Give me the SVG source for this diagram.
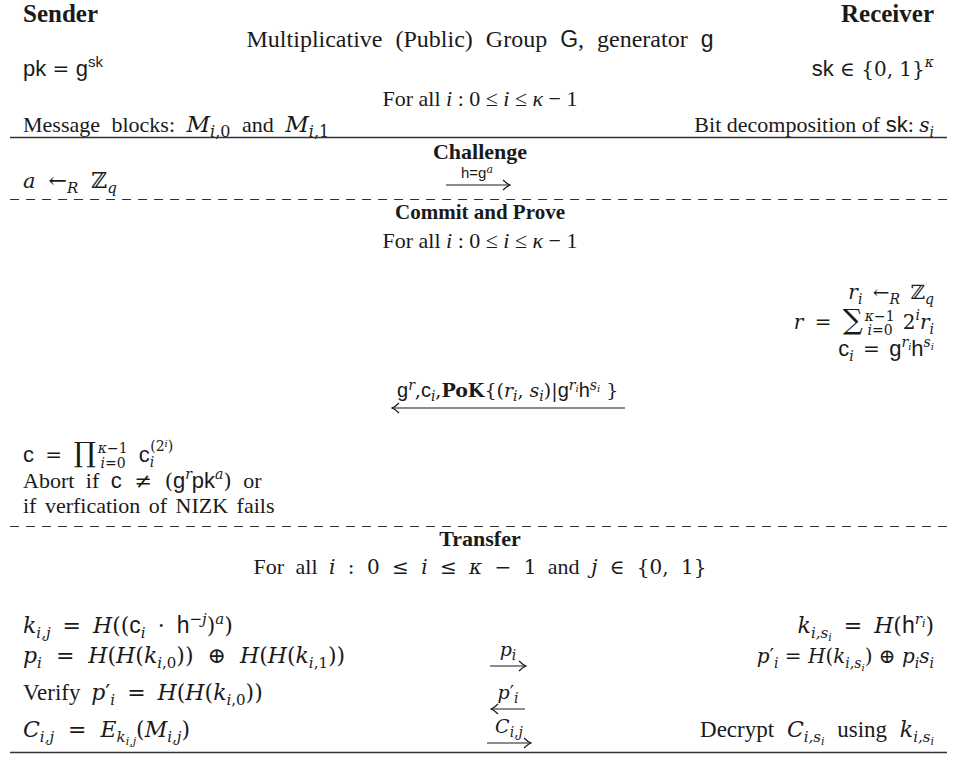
<svg xmlns="http://www.w3.org/2000/svg" width="957" height="770" viewBox="0 0 957 770">
<style>
.t{font-family:"Liberation Serif","DejaVu Serif",serif;font-size:22px;fill:#1a1a1a}
.h{font-weight:bold;font-size:25px}
.b{font-weight:bold}
.M{font-family:"DejaVu Serif",serif;font-size:20px;font-style:normal}
.m{font-family:"DejaVu Serif",serif;font-size:20px;font-style:italic}
.mt{font-style:italic}
.s{font-family:"Liberation Sans","DejaVu Sans",sans-serif;font-size:22px}
.u{font-family:"DejaVu Serif",serif;font-size:14px}
.ui{font-family:"DejaVu Serif",serif;font-size:14px;font-style:italic}
.us{font-family:"Liberation Sans","DejaVu Sans",sans-serif;font-size:15px}
.uu{font-family:"DejaVu Serif",serif;font-size:10px;font-style:italic}
.T{font-size:23px}
.T .M,.T .m{font-size:22px}
.T .s{font-size:23px}
.T .u,.T .ui{font-size:15px}
.T .uu{font-size:11px}
.l .m,.l .M{font-size:19px}
.l .s{font-size:20px}
.l .ui,.l .u{font-size:14px}
.l .uu{font-size:10px}
.big{font-family:"DejaVu Serif",serif;font-size:28px}
.rule{stroke:#333;stroke-width:1.3;fill:none}
.dash{stroke:#333;stroke-width:1.2;stroke-dasharray:9 7;fill:none}
.arr{stroke:#1a1a1a;stroke-width:1.2;fill:none}
</style>
<defs>
<marker id="ah" viewBox="-9 -6 10 12" refX="0" refY="0" markerWidth="10" markerHeight="12" markerUnits="userSpaceOnUse" orient="auto-start-reverse">
<path d="M-7,-5 Q-3,-1 0,0 Q-3,1 -7,5" stroke="#1a1a1a" stroke-width="1.2" fill="none"/>
</marker>
</defs>
<rect width="957" height="770" fill="#fff"/>

<g id="setup">
<text class="t h" x="23" y="22">Sender</text>
<text class="t h" x="934" y="22" text-anchor="end">Receiver</text>
<text class="t" x="480" y="47" text-anchor="middle" style="font-size:24px" word-spacing="7">Multiplicative (Public) Group <tspan class="s" style="font-size:23px">G</tspan>, generator <tspan class="s" style="font-size:23px">g</tspan></text>
<text class="t" x="23" y="76"><tspan class="s">pk</tspan><tspan class="M"> = </tspan><tspan class="s">g</tspan><tspan class="us" dy="-9">sk</tspan></text>
<text class="t" x="934" y="76" text-anchor="end"><tspan class="s">sk</tspan><tspan class="M"> ∈ {0, 1}</tspan><tspan class="ui" dy="-9">κ</tspan></text>
<text class="t" x="480" y="106" text-anchor="middle">For all <tspan class="mt">i</tspan> : 0 ≤ <tspan class="mt">i</tspan> ≤ <tspan class="mt">κ</tspan> − 1</text>
<text class="t" x="23" y="132" word-spacing="6">Message blocks: <tspan class="m" style="font-size:23px">M</tspan><tspan class="ui" style="font-size:16px" dy="5">i</tspan><tspan class="u" style="font-size:16px">,0</tspan><tspan dy="-5"> and </tspan><tspan class="m" style="font-size:23px">M</tspan><tspan class="ui" style="font-size:16px" dy="5">i</tspan><tspan class="u" style="font-size:16px">,1</tspan></text>
<text class="t" x="934" y="132" text-anchor="end">Bit decomposition of <tspan class="s">sk</tspan>: <tspan class="m">s</tspan><tspan class="ui" dy="5">i</tspan></text>
</g>

<g id="challenge">
<text class="t b" x="480" y="159" text-anchor="middle">Challenge</text>
<text class="t" x="23" y="188" word-spacing="6"><tspan class="m" style="font-size:21px">a</tspan><tspan class="M" style="font-size:22px"> ←</tspan><tspan class="ui" style="font-size:15px" dy="5">R</tspan><tspan class="M" style="font-size:22px" dy="-5"> ℤ</tspan><tspan class="ui" style="font-size:15px" dy="5">q</tspan></text>
<text class="t" x="477" y="178" text-anchor="middle"><tspan class="s" style="font-size:15px">h=g</tspan><tspan class="ui" style="font-size:11px" dy="-5">a</tspan></text>
</g>

<g id="commit">
<text class="t b" x="480" y="219" text-anchor="middle" style="font-size:21px">Commit and Prove</text>
<text class="t" x="480" y="248" text-anchor="middle">For all <tspan class="mt">i</tspan> : 0 ≤ <tspan class="mt">i</tspan> ≤ <tspan class="mt">κ</tspan> − 1</text>
<text class="t" x="934" y="299" text-anchor="end" word-spacing="4"><tspan class="m">r</tspan><tspan class="ui" dy="5">i</tspan><tspan class="M" dy="-5"> ←</tspan><tspan class="ui" dy="5">R</tspan><tspan class="M" dy="-5"> ℤ</tspan><tspan class="ui" dy="5">q</tspan></text>
<text class="t" x="934" y="329" text-anchor="end" word-spacing="5"><tspan class="m">r</tspan><tspan class="M"> = </tspan><tspan class="big">∑</tspan><tspan class="ui" dx="2" dy="-8">κ</tspan><tspan class="u">−1</tspan><tspan class="ui" dx="-27" dy="14">i</tspan><tspan class="u">=0</tspan><tspan class="M" dx="10" dy="-6">2</tspan><tspan class="ui" dy="-9">i</tspan><tspan class="m" dy="9">r</tspan><tspan class="ui" dy="5">i</tspan></text>
<text class="t" x="934" y="356" text-anchor="end" word-spacing="3"><tspan class="s">c</tspan><tspan class="ui" dy="5">i</tspan><tspan class="M" dy="-5"> = </tspan><tspan class="s">g</tspan><tspan class="ui" dy="-9">r</tspan><tspan class="uu" dy="3">i</tspan><tspan class="s" dy="6">h</tspan><tspan class="ui" dy="-9">s</tspan><tspan class="uu" dy="3">i</tspan></text>
<text class="t l" x="397" y="397"><tspan class="s">g</tspan><tspan class="ui" dy="-7">r</tspan><tspan class="M" dy="7">,</tspan><tspan class="s">c</tspan><tspan class="ui" dy="4">i</tspan><tspan class="M" dy="-4">,</tspan><tspan class="M" style="font-weight:bold">PoK</tspan><tspan class="M">{(</tspan><tspan class="m">r</tspan><tspan class="ui" dy="4">i</tspan><tspan class="M" dy="-4">, </tspan><tspan class="m">s</tspan><tspan class="ui" dy="4">i</tspan><tspan class="M" dy="-4">)|</tspan><tspan class="s">g</tspan><tspan class="ui" dy="-7">r</tspan><tspan class="uu" dy="2">i</tspan><tspan class="s" dy="5">h</tspan><tspan class="ui" dy="-7">s</tspan><tspan class="uu" dy="2">i</tspan><tspan class="M" dy="5"> }</tspan></text>
<text class="t" x="23" y="462" word-spacing="5"><tspan class="s">c</tspan><tspan class="M"> = </tspan><tspan class="big">∏</tspan><tspan class="ui" dx="2" dy="-9">κ</tspan><tspan class="u">−1</tspan><tspan class="ui" dx="-27" dy="15">i</tspan><tspan class="u">=0</tspan><tspan class="s" dx="13" dy="-6">c</tspan><tspan class="ui" dy="5">i</tspan><tspan class="u" dx="-4" dy="-16">(2</tspan><tspan class="uu" dy="-4">i</tspan><tspan class="u" dy="4">)</tspan></text>
<text class="t" x="23" y="488" word-spacing="6">Abort if <tspan class="s">c</tspan><tspan class="M" style="font-size:21px"> ≠ (</tspan><tspan class="s">g</tspan><tspan class="ui" dy="-9">r</tspan><tspan class="s" dy="9">pk</tspan><tspan class="ui" dy="-9">a</tspan><tspan class="M" style="font-size:21px" dy="9">)</tspan> or</text>
<text class="t" x="23" y="513" word-spacing="3">if verfication of NIZK fails</text>
</g>

<g id="transfer">
<text class="t b" x="480" y="546" text-anchor="middle">Transfer</text>
<text class="t" x="480" y="574" text-anchor="middle" word-spacing="6">For all <tspan class="m">i</tspan><tspan class="M"> : 0 ≤ </tspan><tspan class="m">i</tspan><tspan class="M"> ≤ </tspan><tspan class="m">κ</tspan><tspan class="M"> − 1</tspan> and <tspan class="m">j</tspan><tspan class="M"> ∈ {0, 1}</tspan></text>
<text class="t T" x="23" y="633" word-spacing="5"><tspan class="m">k</tspan><tspan class="ui" dy="5">i,j</tspan><tspan class="M" dy="-5"> = </tspan><tspan class="m">H</tspan><tspan class="M">((</tspan><tspan class="s">c</tspan><tspan class="ui" dy="5">i</tspan><tspan class="M" dy="-5"> · </tspan><tspan class="s">h</tspan><tspan class="u" dy="-9">−</tspan><tspan class="ui">j</tspan><tspan class="M" dy="9">)</tspan><tspan class="ui" dy="-9">a</tspan><tspan class="M" dy="9">)</tspan></text>
<text class="t T" x="934" y="633" text-anchor="end" word-spacing="5"><tspan class="m">k</tspan><tspan class="ui" dy="5">i,s</tspan><tspan class="uu" dy="3">i</tspan><tspan class="M" dy="-8"> = </tspan><tspan class="m">H</tspan><tspan class="M">(</tspan><tspan class="s">h</tspan><tspan class="ui" dy="-9">r</tspan><tspan class="uu" dy="3">i</tspan><tspan class="M" dy="6">)</tspan></text>
<text class="t T" x="23" y="663" word-spacing="7"><tspan class="m">p</tspan><tspan class="ui" dy="5">i</tspan><tspan class="M" dy="-5"> = </tspan><tspan class="m">H</tspan><tspan class="M">(</tspan><tspan class="m">H</tspan><tspan class="M">(</tspan><tspan class="m">k</tspan><tspan class="ui" dy="5">i</tspan><tspan class="u">,0</tspan><tspan class="M" dy="-5">)) ⊕ </tspan><tspan class="m">H</tspan><tspan class="M">(</tspan><tspan class="m">H</tspan><tspan class="M">(</tspan><tspan class="m">k</tspan><tspan class="ui" dy="5">i</tspan><tspan class="u">,1</tspan><tspan class="M" dy="-5">))</tspan></text>
<text class="t" x="934" y="663" text-anchor="end"><tspan class="m">p</tspan><tspan class="M">′</tspan><tspan class="ui" dy="5">i</tspan><tspan class="M" dy="-5"> = </tspan><tspan class="m">H</tspan><tspan class="M">(</tspan><tspan class="m">k</tspan><tspan class="ui" dy="5">i,s</tspan><tspan class="uu" dy="3">i</tspan><tspan class="M" dy="-8">) ⊕ </tspan><tspan class="m">p</tspan><tspan class="ui" dy="5">i</tspan><tspan class="m" dy="-5">s</tspan><tspan class="ui" dy="5">i</tspan></text>
<text class="t T" x="23" y="700" word-spacing="5">Verify <tspan class="m">p</tspan><tspan class="M">′</tspan><tspan class="ui" dy="5">i</tspan><tspan class="M" dy="-5"> = </tspan><tspan class="m">H</tspan><tspan class="M">(</tspan><tspan class="m">H</tspan><tspan class="M">(</tspan><tspan class="m">k</tspan><tspan class="ui" dy="5">i</tspan><tspan class="u">,0</tspan><tspan class="M" dy="-5">))</tspan></text>
<text class="t T" x="23" y="737" word-spacing="7"><tspan class="m">C</tspan><tspan class="ui" dy="5">i,j</tspan><tspan class="M" dy="-5"> = </tspan><tspan class="m">E</tspan><tspan class="ui" dy="5">k</tspan><tspan class="uu" dy="3">i,j</tspan><tspan class="M" dy="-8">(</tspan><tspan class="m">M</tspan><tspan class="ui" dy="5">i,j</tspan><tspan class="M" dy="-5">)</tspan></text>
<text class="t T" x="934" y="737" text-anchor="end" word-spacing="7">Decrypt <tspan class="m">C</tspan><tspan class="ui" dy="5">i,s</tspan><tspan class="uu" dy="3">i</tspan><tspan dy="-8"> using </tspan><tspan class="m">k</tspan><tspan class="ui" dy="5">i,s</tspan><tspan class="uu" dy="3">i</tspan></text>
<text class="t l" x="508" y="656" text-anchor="middle"><tspan class="m">p</tspan><tspan class="ui" dy="4">i</tspan></text>
<text class="t l" x="508" y="699" text-anchor="middle"><tspan class="m">p</tspan><tspan class="M">′</tspan><tspan class="ui" dy="4">i</tspan></text>
<text class="t l" x="509" y="733" text-anchor="middle"><tspan class="m">C</tspan><tspan class="ui" dy="4">i,j</tspan></text>
</g>

<g id="connectors">
<line class="rule" x1="10" y1="137.5" x2="947" y2="137.5"/>
<line class="dash" x1="10" y1="199.5" x2="947" y2="199.5"/>
<line class="dash" x1="10" y1="526.5" x2="947" y2="526.5"/>
<line class="rule" x1="10" y1="752.5" x2="947" y2="752.5"/>
<line class="arr" x1="446" y1="185" x2="510" y2="185" marker-end="url(#ah)"/>
<line class="arr" x1="392" y1="408" x2="625" y2="408" marker-start="url(#ah)"/>
<line class="arr" x1="490" y1="666" x2="526" y2="666" marker-end="url(#ah)"/>
<line class="arr" x1="491" y1="709" x2="525" y2="709" marker-start="url(#ah)"/>
<line class="arr" x1="487" y1="743" x2="531" y2="743" marker-end="url(#ah)"/>
</g>
</svg>
